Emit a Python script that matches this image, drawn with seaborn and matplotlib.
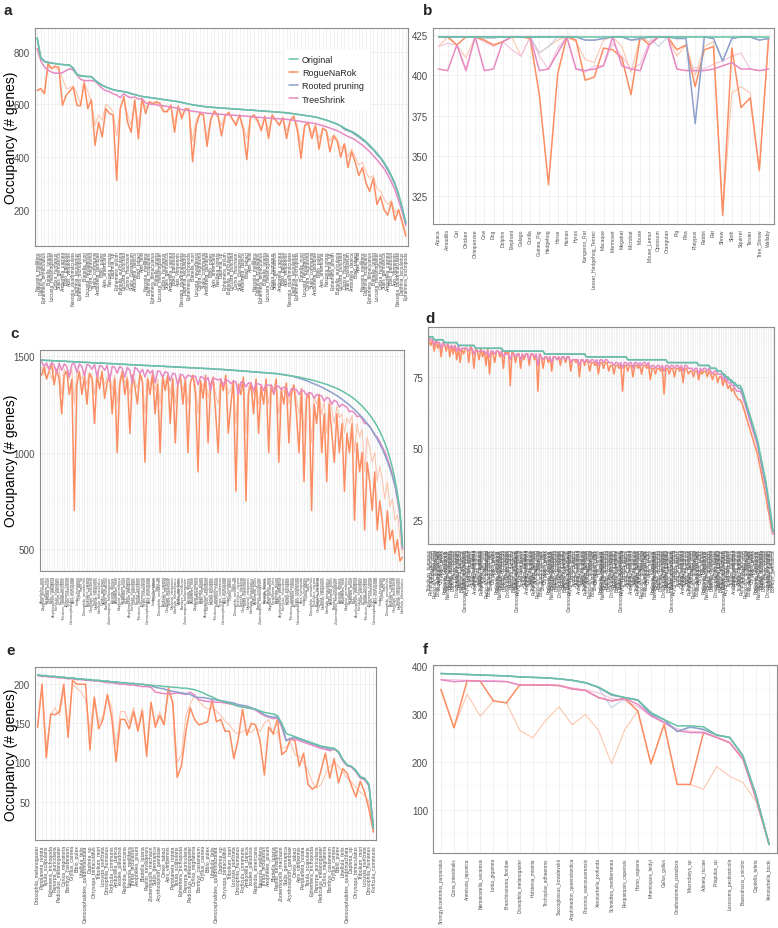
import matplotlib
matplotlib.use("Agg")
import matplotlib.pyplot as plt
from matplotlib.lines import Line2D
import numpy as np
import pandas as pd
import seaborn as sns

sns.set_theme(style="white")
plt.rcParams["font.family"] = ["Liberation Sans", "DejaVu Sans"]

W, H = 778, 929
fig = plt.figure(figsize=(W / 100, H / 100), dpi=100)

METHODS = ["Original", "RogueNaRok", "Rooted pruning", "TreeShrink"]
DARK = {"Original": "#66C2A5", "RogueNaRok": "#FC8D62",
        "Rooted pruning": "#8DA0CB", "TreeShrink": "#E78AC3"}
LIGHT = {"Original": "#A8DCCB", "RogueNaRok": "#FDC3AB",
         "Rooted pruning": "#C3CEE4", "TreeShrink": "#F2BFDD"}

# ---------------- tick-label name pools (labels unreadable in the reference) -------------
GENERA = ["Drosophila", "Anopheles", "Apis", "Bombyx", "Tribolium", "Nasonia", "Acyrthosiphon",
          "Pediculus", "Daphnia", "Ixodes", "Zootermopsis", "Ephemera", "Libellula", "Forficula",
          "Blattella", "Periplaneta", "Gryllus", "Locusta", "Thrips", "Cimex", "Corixa", "Chrysopa",
          "Raphidia", "Sialis", "Panorpa", "Ctenocephalides", "Amborella", "Papilio", "Tipula", "Bibio"]
EPITHETS = ["melanogaster", "gambiae", "mellifera", "mori", "castaneum", "vitripennis", "pisum",
            "humanus", "pulex", "scapularis", "nevadensis", "danica", "quadrimaculata", "auricularia",
            "germanica", "americana", "bimaculatus", "migratoria", "tabaci", "lectularius", "punctata",
            "carnea", "notata", "lutaria", "communis", "felis", "trichopoda", "machaon", "paludosa", "sp"]

taxa_a = [f"{GENERA[(3 * i + 5) % 30]}_{EPITHETS[(7 * i + 2) % 30]}" for i in range(103)]
taxa_c = [f"{GENERA[(7 * i + 1) % 30]}_{EPITHETS[(11 * i + 3) % 30]}" for i in range(144)]
taxa_d = [f"{GENERA[(11 * i + 4) % 30]}_{EPITHETS[(13 * i + 7) % 30]}" for i in range(200)]
taxa_e = ["Drosophila_melanogaster"] + [f"{GENERA[(13 * i + 2) % 30]}_{EPITHETS[(17 * i + 5) % 30]}" for i in range(1, 78)]

taxa_b = ["Alpaca", "Armadillo", "Cat", "Chicken", "Chimpanzee", "Cow", "Dog", "Dolphin", "Elephant",
          "Galago", "Gorilla", "Guinea_Pig", "Hedgehog", "Horse", "Human", "Hyrax", "Kangaroo_Rat",
          "Lesser_Hedgehog_Tenrec", "Macaque", "Marmoset", "Megabat", "Microbat", "Mouse", "Mouse_Lemur",
          "Opossum", "Orangutan", "Pig", "Pika", "Platypus", "Rabbit", "Rat", "Shrew", "Sloth",
          "Squirrel", "Tarsier", "Tree_Shrew", "Wallaby"]

taxa_f = ["Strongylocentrotus_purpuratus", "Ciona_intestinalis", "Anneissia_japonica",
          "Nematostella_vectensis", "Lottia_gigantea", "Branchiostoma_floridae", "Drosophila_melanogaster",
          "Hofstenia_miamia", "Trichoplax_adhaerens", "Saccoglossus_kowalevskii", "Amphimedon_queenslandica",
          "Phoronis_vancouverensis", "Xenoturbella_profunda", "Schmidtea_mediterranea",
          "Peripatopsis_capensis", "Homo_sapiens", "Mnemiopsis_leidyi", "Gallus_gallus",
          "Gnathostomula_paradoxa", "Macrodasys_sp", "Adineta_ricciae", "Priapulus_sp",
          "Loxosoma_pectinaricola", "Baseodiscus_unicolor", "Capitella_teleta", "Xenoturbella_bocki"]

# ---------------- panel a ----------------
a_original = [852, 775, 762, 758, 756, 754, 752, 751, 750, 749,
              735, 712, 708, 706, 705, 705, 690, 680, 672, 665,
              660, 655, 652, 650, 648, 645, 640, 637, 633, 630,
              628, 626, 624, 622, 620, 618, 616, 614, 612, 610,
              607, 604, 601, 598, 596, 594, 592, 590, 589, 588,
              587, 586, 585, 584, 583, 582, 581, 580, 579, 578,
              577, 576, 575, 574, 573, 572, 571, 570, 569, 568,
              566, 564, 562, 560, 558, 556, 554, 552, 548, 544,
              540, 535, 530, 525, 518, 510, 503, 497, 490, 480,
              470, 458, 445, 430, 415, 398, 380, 356, 330, 300,
              260, 210, 150]
a_rooted = [852, 778, 764, 760, 757, 755, 753, 751, 750, 748,
            738, 714, 709, 707, 706, 705, 692, 681, 673, 666,
            661, 656, 653, 650, 648, 645, 641, 637, 633, 630,
            628, 626, 624, 622, 620, 618, 616, 614, 612, 610,
            607, 604, 601, 598, 596, 594, 592, 590, 589, 588,
            587, 586, 585, 584, 583, 582, 581, 580, 579, 578,
            577, 576, 575, 574, 573, 572, 571, 570, 569, 568,
            566, 564, 562, 560, 558, 556, 554, 552, 548, 544,
            540, 535, 530, 525, 518, 505, 500, 495, 485, 476,
            465, 455, 440, 428, 410, 395, 375, 350, 325, 295,
            255, 205, 148]
a_treeshrink = [812, 765, 742, 730, 722, 718, 718, 720, 728, 735,
                730, 712, 695, 690, 690, 690, 688, 675, 660, 652,
                648, 640, 635, 625, 640, 630, 625, 628, 620, 622,
                605, 602, 600, 598, 596, 594, 592, 590, 587, 584,
                580, 578, 576, 574, 572, 570, 568, 566, 565, 564,
                563, 562, 561, 560, 559, 558, 557, 556, 555, 554,
                552, 551, 550, 549, 548, 547, 546, 545, 544, 543,
                541, 539, 537, 535, 533, 531, 529, 527, 523, 519,
                515, 510, 505, 500, 493, 485, 478, 472, 465, 455,
                445, 433, 420, 405, 390, 373, 355, 332, 305, 275,
                235, 190, 140]
a_rogue = [653, 660, 640, 754, 735, 745, 740, 596, 634, 650,
           665, 596, 594, 684, 584, 617, 444, 532, 476, 584,
           565, 559, 311, 584, 629, 532, 494, 617, 469, 623,
           565, 610, 603, 610, 603, 572, 572, 597, 494, 594,
           546, 584, 582, 382, 520, 565, 560, 440, 540, 575,
           560, 480, 555, 570, 545, 520, 560, 505, 390, 550,
           560, 540, 500, 555, 470, 560, 540, 520, 550, 470,
           540, 555, 500, 395, 520, 530, 470, 520, 430, 510,
           500, 420, 480, 460, 400, 450, 360, 420, 380, 330,
           360, 300, 270, 320, 220, 250, 200, 180, 230, 160,
           200, 150, 100]
a_rogue_thin = [650, 658, 645, 740, 742, 738, 730, 700, 660, 662,
                670, 640, 600, 680, 650, 610, 520, 560, 540, 600,
                590, 570, 480, 590, 620, 560, 520, 610, 520, 615,
                590, 600, 598, 605, 590, 575, 578, 590, 530, 588,
                560, 580, 575, 460, 540, 565, 555, 470, 545, 570,
                550, 520, 560, 565, 540, 530, 555, 520, 470, 548,
                552, 530, 510, 550, 500, 545, 540, 525, 548, 500,
                535, 548, 520, 440, 515, 525, 490, 515, 470, 505,
                500, 460, 485, 470, 430, 450, 400, 430, 400, 370,
                380, 340, 320, 330, 280, 270, 240, 220, 235, 190,
                200, 160, 110]

# ---------------- panel b ----------------
b_original = [424, 424, 424, 424, 424, 424, 424, 424, 424, 424, 424, 424, 424, 424, 424, 424, 424, 424, 424,
              424, 424, 424, 424, 424, 424, 424, 424, 424, 424, 424, 424, 424, 424, 424, 424, 424, 424]
b_rogue = [424, 424, 419, 424, 424, 422, 419, 421, 424, 424, 423, 388, 332, 401, 424, 422, 397, 399, 417,
           416, 411, 388, 424, 419, 424, 424, 416, 419, 393, 416, 418, 313, 417, 380, 386, 341, 423]
b_rogue_thin = [418, 424, 419, 411, 424, 421, 419, 421, 424, 412, 424, 414, 418, 422, 424, 421, 410, 408, 422,
                424, 418, 402, 424, 421, 424, 424, 412, 419, 400, 418, 421, 313, 389, 393, 389, 340, 423]
b_treeshrink = [404, 403, 419, 403, 424, 403, 404, 421, 424, 424, 424, 403, 404, 414, 424, 404, 403, 404, 406,
                424, 406, 404, 403, 419, 424, 424, 404, 403, 403, 403, 404, 406, 408, 404, 404, 403, 404]
b_treeshrink_thin = [418, 420, 419, 404, 424, 421, 418, 421, 416, 412, 424, 412, 404, 417, 424, 404, 402, 406,
                     406, 420, 412, 404, 407, 421, 424, 424, 404, 403, 405, 404, 407, 409, 412, 414, 404, 403, 404]
b_rooted = [424, 424, 424, 424, 424, 424, 424, 424, 424, 424, 424, 424, 424, 424, 424, 424, 422, 422, 423,
            424, 424, 422, 423, 424, 424, 424, 423, 423, 370, 424, 423, 409, 423, 424, 424, 422, 423]
b_rooted_thin = [424, 424, 424, 424, 424, 423, 423, 424, 424, 424, 424, 414, 418, 424, 424, 424, 422, 422, 423,
                 424, 424, 422, 422, 424, 418, 424, 424, 424, 424, 424, 423, 409, 423, 424, 424, 422, 423]

# ---------------- panel c ----------------
c_original = [1478, 1477, 1476, 1476, 1475, 1474, 1474, 1473, 1472, 1472,
              1471, 1470, 1470, 1469, 1468, 1468, 1467, 1466, 1466, 1465,
              1464, 1464, 1463, 1462, 1462, 1461, 1460, 1460, 1459, 1458,
              1458, 1457, 1456, 1456, 1455, 1454, 1454, 1453, 1452, 1452,
              1451, 1450, 1450, 1449, 1448, 1448, 1447, 1446, 1446, 1445,
              1444, 1444, 1443, 1442, 1442, 1441, 1440, 1440, 1439, 1438,
              1438, 1437, 1436, 1436, 1435, 1434, 1434, 1433, 1432, 1431,
              1430, 1430, 1429, 1428, 1427, 1426, 1425, 1424, 1423, 1422,
              1421, 1420, 1419, 1418, 1417, 1416, 1415, 1414, 1413, 1412,
              1411, 1410, 1409, 1408, 1406, 1404, 1402, 1400, 1398, 1396,
              1394, 1392, 1390, 1387, 1384, 1381, 1378, 1375, 1372, 1368,
              1364, 1360, 1356, 1352, 1347, 1342, 1337, 1331, 1325, 1318,
              1311, 1303, 1295, 1286, 1276, 1265, 1253, 1240, 1226, 1211,
              1195, 1177, 1157, 1135, 1110, 1082, 1050, 1014, 972, 922,
              862, 790, 700, 520]
c_rooted = [1478, 1477, 1476, 1476, 1475, 1474, 1474, 1473, 1472, 1472,
            1471, 1470, 1470, 1469, 1468, 1468, 1467, 1466, 1466, 1465,
            1464, 1464, 1463, 1462, 1462, 1461, 1460, 1460, 1459, 1458,
            1458, 1457, 1456, 1456, 1455, 1454, 1454, 1453, 1452, 1452,
            1451, 1450, 1450, 1449, 1448, 1448, 1447, 1446, 1446, 1445,
            1444, 1444, 1443, 1442, 1442, 1441, 1440, 1440, 1439, 1438,
            1438, 1437, 1436, 1436, 1435, 1434, 1434, 1433, 1432, 1431,
            1430, 1430, 1429, 1428, 1427, 1426, 1425, 1424, 1423, 1422,
            1421, 1420, 1419, 1418, 1417, 1416, 1415, 1414, 1413, 1412,
            1411, 1410, 1409, 1408, 1406, 1404, 1402, 1400, 1398, 1396,
            1392, 1388, 1385, 1380, 1376, 1371, 1366, 1360, 1355, 1350,
            1344, 1338, 1331, 1324, 1317, 1310, 1302, 1294, 1285, 1276,
            1266, 1256, 1245, 1234, 1222, 1209, 1196, 1182, 1167, 1150,
            1133, 1114, 1093, 1070, 1045, 1018, 988, 955, 918, 878,
            830, 770, 690, 510]
c_treeshrink = [1470, 1445, 1462, 1432, 1466, 1452, 1410, 1462, 1425, 1458,
                1445, 1390, 1455, 1462, 1415, 1458, 1445, 1395, 1455, 1450,
                1430, 1455, 1390, 1450, 1445, 1425, 1450, 1370, 1445, 1440,
                1410, 1445, 1435, 1390, 1440, 1425, 1360, 1440, 1430, 1410,
                1430, 1390, 1428, 1410, 1425, 1360, 1422, 1418, 1390, 1418,
                1412, 1370, 1410, 1405, 1345, 1405, 1400, 1380, 1400, 1395,
                1392, 1395, 1350, 1392, 1388, 1370, 1388, 1320, 1385, 1380,
                1375, 1380, 1345, 1375, 1372, 1355, 1370, 1365, 1300, 1365,
                1362, 1340, 1360, 1358, 1320, 1356, 1354, 1350, 1320, 1350,
                1348, 1345, 1305, 1345, 1342, 1325, 1338, 1335, 1290, 1330,
                1328, 1325, 1300, 1320, 1318, 1295, 1310, 1306, 1280, 1300,
                1296, 1292, 1265, 1285, 1278, 1250, 1270, 1262, 1235, 1250,
                1242, 1233, 1210, 1215, 1205, 1185, 1190, 1175, 1150, 1150,
                1135, 1115, 1090, 1080, 1055, 1030, 1005, 970, 930, 885,
                830, 760, 670, 500]
c_rogue = [1400, 1440, 1380, 1420, 1460, 1350, 1430, 1380, 1200, 1400,
           1420, 1300, 1380, 700, 1350, 1420, 1300, 1390, 1250, 1410,
           1380, 1150, 1400, 1330, 1420, 1280, 1360, 1400, 1200, 1380,
           1000, 1350, 1420, 1300, 1380, 1100, 1400, 1340, 1250, 1410,
           1360, 950, 1380, 1300, 1410, 1200, 1350, 1000, 1390, 1320,
           1400, 1150, 1380, 1050, 1350, 1400, 1250, 1380, 1000, 1360,
           1400, 1300, 900, 1370, 1280, 1400, 1050, 1350, 1390, 1200,
           1000, 1380, 1320, 1400, 1100, 1250, 1370, 800, 1350, 1300,
           1390, 750, 1300, 1360, 1200, 1380, 1100, 1340, 1250, 1380,
           1000, 1350, 1300, 1380, 950, 1320, 1250, 1360, 1050, 1300,
           1350, 1200, 1000, 1330, 850, 1280, 1300, 700, 1250, 1150,
           1300, 1000, 1200, 850, 1250, 1100, 950, 1200, 1000, 1150,
           800, 1100, 1000, 1150, 650, 1050, 900, 1000, 600, 950,
           850, 700, 900, 600, 750, 650, 500, 700, 550, 600,
           480, 550, 440, 460]
c_rogue_thin = [1440, 1400, 1450, 1430, 1380, 1445, 1420, 1440, 1300, 1430,
                1410, 1380, 1430, 1250, 1420, 1400, 1380, 1420, 1350, 1410,
                1400, 1300, 1420, 1380, 1400, 1350, 1390, 1410, 1320, 1400,
                1250, 1380, 1410, 1360, 1395, 1300, 1400, 1370, 1330, 1400,
                1380, 1200, 1390, 1350, 1400, 1320, 1380, 1250, 1390, 1360,
                1390, 1300, 1385, 1250, 1370, 1390, 1320, 1380, 1250, 1370,
                1390, 1350, 1200, 1370, 1340, 1385, 1280, 1360, 1380, 1300,
                1250, 1370, 1350, 1385, 1300, 1330, 1365, 1150, 1360, 1340,
                1375, 1100, 1340, 1360, 1300, 1370, 1250, 1350, 1320, 1365,
                1250, 1350, 1330, 1360, 1200, 1340, 1310, 1350, 1250, 1330,
                1340, 1280, 1200, 1320, 1100, 1300, 1310, 1050, 1290, 1250,
                1300, 1200, 1260, 1100, 1270, 1220, 1150, 1240, 1180, 1200,
                1100, 1180, 1150, 1190, 1000, 1150, 1080, 1120, 900, 1080,
                1020, 950, 1000, 850, 930, 860, 760, 850, 720, 760,
                650, 680, 560, 480]

# ---------------- panel d ----------------
d_original = [89, 89, 89, 88, 88, 88, 88, 88, 88, 87, 87, 87, 87, 87, 87, 87, 87, 86, 86, 86,
              86, 86, 86, 86, 86, 86, 86, 85, 85, 85, 85, 85, 85, 85, 85, 85, 85, 85, 85, 85,
              85, 85, 85, 84, 84, 84, 84, 84, 84, 84, 84, 84, 84, 84, 84, 84, 84, 84, 84, 84,
              84, 84, 84, 84, 84, 84, 84, 83, 83, 83, 83, 83, 83, 83, 83, 83, 83, 83, 83, 83,
              83, 83, 83, 83, 83, 83, 83, 83, 83, 83, 83, 82, 82, 82, 82, 82, 82, 82, 82, 82,
              82, 82, 82, 82, 82, 82, 82, 82, 82, 82, 82, 82, 82, 82, 82, 81, 81, 81, 81, 81,
              81, 81, 81, 81, 81, 81, 81, 81, 81, 81, 81, 81, 81, 81, 81, 81, 81, 81, 80, 80,
              80, 80, 80, 80, 80, 80, 80, 80, 80, 80, 80, 80, 80, 80, 80, 80, 79, 79, 79, 79,
              79, 79, 79, 78, 78, 78, 78, 77, 77, 77, 76, 76, 75, 75, 74, 74, 73, 73, 72, 72,
              72, 71, 69, 67, 65, 63, 61, 59, 57, 55, 53, 50, 47, 44, 41, 38, 34, 30, 26, 21]
d_rooted = [89, 89, 89, 88, 88, 88, 88, 88, 88, 87, 87, 87, 87, 87, 87, 87, 87, 86, 86, 86,
            86, 86, 86, 86, 86, 86, 86, 85, 85, 85, 85, 85, 85, 85, 85, 85, 85, 85, 85, 85,
            85, 85, 85, 84, 84, 84, 84, 84, 84, 84, 84, 84, 84, 84, 84, 84, 84, 84, 84, 84,
            84, 84, 84, 84, 84, 84, 84, 83, 83, 83, 83, 83, 83, 83, 83, 83, 83, 83, 83, 83,
            83, 83, 83, 83, 83, 83, 83, 83, 83, 83, 83, 82, 82, 82, 82, 82, 82, 82, 82, 82,
            82, 82, 82, 82, 82, 82, 82, 82, 82, 82, 82, 82, 82, 82, 82, 81, 81, 81, 81, 81,
            81, 81, 81, 81, 81, 81, 81, 81, 81, 81, 81, 81, 81, 81, 81, 81, 81, 81, 80, 80,
            80, 80, 80, 80, 80, 80, 80, 80, 80, 80, 80, 80, 80, 80, 80, 80, 79, 79, 79, 79,
            79, 79, 79, 78, 78, 78, 78, 77, 77, 77, 76, 75, 75, 74, 74, 73, 73, 72, 72, 71,
            71, 70, 68, 66, 64, 62, 60, 58, 56, 54, 52, 49, 46, 43, 40, 37, 33, 29, 25, 21]
d_treeshrink = [89, 88, 88, 86, 88, 87, 87, 85, 87, 86, 86, 86, 85, 86, 85, 86, 84, 86, 84, 85,
                85, 85, 85, 84, 85, 85, 83, 84, 84, 84, 84, 84, 84, 83, 84, 82, 84, 84, 83, 84,
                84, 83, 84, 82, 83, 83, 83, 81, 83, 83, 82, 83, 83, 81, 83, 82, 83, 83, 81, 83,
                83, 82, 83, 79, 83, 82, 81, 82, 82, 81, 82, 80, 82, 82, 81, 82, 81, 82, 82, 81,
                82, 82, 80, 81, 81, 81, 81, 79, 81, 81, 80, 81, 81, 80, 81, 81, 80, 81, 79, 81,
                81, 80, 81, 81, 80, 80, 80, 79, 80, 80, 79, 80, 78, 80, 80, 79, 80, 80, 78, 80,
                80, 79, 80, 79, 80, 80, 79, 80, 78, 79, 79, 78, 79, 79, 78, 79, 77, 79, 79, 78,
                79, 79, 78, 79, 79, 78, 79, 77, 79, 79, 78, 78, 78, 77, 78, 78, 76, 78, 77, 78,
                78, 77, 78, 77, 76, 77, 77, 76, 76, 76, 74, 75, 74, 73, 73, 72, 72, 71, 70, 70,
                70, 69, 67, 65, 63, 61, 59, 57, 55, 53, 51, 48, 45, 42, 39, 36, 32, 28, 24, 20]
d_rogue = [88, 86, 88, 84, 88, 85, 87, 82, 87, 86, 84, 87, 82, 86, 83, 86, 81, 85, 80, 85,
           83, 85, 85, 80, 86, 84, 78, 85, 84, 81, 85, 82, 84, 79, 85, 76, 84, 83, 80, 84,
           84, 82, 84, 78, 84, 83, 84, 72, 84, 83, 80, 83, 83, 78, 83, 81, 83, 83, 79, 83,
           83, 81, 83, 70, 83, 82, 78, 82, 82, 80, 82, 77, 82, 82, 81, 82, 79, 82, 82, 80,
           82, 82, 77, 81, 81, 80, 81, 75, 81, 81, 79, 81, 80, 77, 80, 80, 79, 80, 76, 80,
           80, 78, 80, 80, 77, 79, 79, 76, 79, 79, 78, 79, 70, 79, 79, 77, 79, 79, 75, 79,
           79, 78, 79, 76, 79, 79, 78, 79, 74, 78, 78, 76, 78, 78, 77, 78, 69, 78, 78, 76,
           78, 78, 75, 78, 78, 77, 78, 73, 78, 78, 76, 77, 77, 75, 77, 77, 74, 77, 76, 77,
           77, 75, 77, 76, 74, 76, 76, 73, 75, 75, 72, 74, 73, 71, 72, 70, 71, 69, 68, 67,
           67, 66, 64, 62, 60, 58, 56, 54, 52, 50, 48, 45, 42, 39, 36, 33, 29, 26, 22, 20]

# ---------------- panel e ----------------
e_original = [212, 211, 211, 210, 210, 209, 209, 208, 208, 207,
              207, 206, 206, 205, 205, 204, 204, 203, 203, 202,
              202, 201, 201, 200, 200, 199, 199, 198, 198, 197,
              197, 196, 196, 195, 195, 194, 193, 191, 189, 186,
              184, 181, 179, 177, 176, 174, 172, 171, 170, 169,
              168, 166, 164, 163, 162, 160, 150, 137, 135, 133,
              131, 129, 127, 125, 123, 121, 120, 119, 118, 114,
              104, 97, 95, 90, 82, 80, 72, 16]
e_rooted = [212, 211, 211, 210, 210, 209, 209, 208, 208, 207,
            207, 206, 206, 205, 205, 204, 204, 203, 203, 202,
            202, 201, 201, 200, 200, 199, 198, 196, 195, 194,
            192, 191, 190, 189, 188, 187, 184, 183, 183, 182,
            181, 180, 179, 178, 177, 176, 174, 173, 172, 170,
            168, 165, 161, 159, 158, 158, 148, 128, 131, 132,
            130, 128, 126, 124, 122, 120, 119, 117, 118, 113,
            103, 96, 95, 89, 81, 79, 71, 16]
e_treeshrink = [211, 210, 210, 209, 209, 208, 208, 207, 207, 206,
                206, 205, 205, 204, 204, 203, 202, 202, 201, 200,
                200, 199, 199, 198, 197, 197, 196, 190, 189, 188,
                188, 188, 189, 188, 187, 190, 186, 180, 179, 178,
                178, 177, 177, 176, 175, 174, 172, 171, 170, 169,
                167, 163, 160, 158, 156, 157, 145, 128, 130, 130,
                128, 126, 124, 122, 120, 118, 117, 115, 117, 113,
                102, 96, 94, 88, 80, 78, 70, 16]
e_rogue = [145, 200, 106, 162, 161, 165, 200, 132, 205, 200,
           200, 200, 116, 183, 143, 155, 187, 157, 101, 155,
           155, 143, 165, 140, 166, 108, 177, 145, 160, 148,
           196, 175, 81, 96, 140, 170, 155, 148, 150, 152,
           180, 152, 155, 140, 140, 105, 130, 168, 135, 150,
           148, 128, 84, 145, 137, 155, 110, 115, 130, 128,
           95, 112, 72, 66, 70, 90, 112, 80, 105, 74,
           92, 86, 70, 56, 76, 62, 40, 11]
e_rogue_thin = [150, 195, 120, 160, 170, 160, 190, 150, 200, 195,
                190, 180, 140, 185, 150, 160, 185, 170, 120, 165,
                165, 150, 170, 145, 170, 115, 175, 150, 165, 150,
                190, 178, 100, 110, 160, 175, 185, 178, 172, 168,
                170, 166, 160, 153, 148, 140, 136, 140, 142, 138,
                145, 140, 150, 155, 135, 140, 118, 120, 125, 110,
                108, 100, 90, 75, 67, 72, 85, 95, 100, 95,
                88, 80, 75, 68, 62, 58, 50, 11]

# ---------------- panel f ----------------
f_original = [385, 384, 383, 382, 381, 380, 378, 377, 376, 374, 371, 366, 357, 342, 335, 330, 304, 289, 276,
              276, 274, 257, 252, 214, 132, 29]
f_rooted = [385, 384, 383, 382, 381, 380, 378, 377, 376, 374, 371, 366, 356, 340, 335, 330, 300, 289, 264,
            274, 268, 257, 252, 214, 132, 29]
f_rooted_thin = [385, 384, 383, 382, 381, 380, 378, 377, 376, 374, 370, 365, 356, 314, 333, 329, 297, 285, 266,
                 272, 270, 256, 251, 212, 130, 29]
f_treeshrink = [372, 368, 370, 369, 369, 368, 361, 361, 361, 360, 353, 350, 335, 328, 333, 321, 297, 283, 266,
                262, 262, 252, 241, 207, 125, 29]
f_treeshrink_thin = [373, 372, 371, 370, 370, 369, 362, 362, 362, 361, 355, 351, 345, 333, 329, 316, 296, 282,
                     270, 265, 263, 252, 241, 207, 127, 29]
f_rogue = [352, 272, 370, 369, 328, 324, 361, 361, 361, 360, 353, 350, 335, 328, 333, 307, 197, 279, 154,
           154, 262, 252, 241, 207, 125, 29]
f_rogue_thin = [352, 272, 342, 296, 328, 324, 267, 251, 288, 316, 278, 300, 267, 197, 268, 307, 197, 279, 154,
                154, 144, 191, 171, 158, 119, 29]


def panel(rect, letter, letter_xy, taxa, series, yticks, label_fs, legend=False):
    l, t, r, b = rect
    ax = fig.add_axes([l / W, 1 - b / H, (r - l) / W, (b - t) / H])
    n = len(taxa)
    recs = []
    for (m, v), vals in series.items():
        assert len(vals) == n, (letter, m, v, len(vals), n)
        recs += [{"pos": i, "occ": val, "method": m, "variant": v} for i, val in enumerate(vals)]
    df = pd.DataFrame(recs)
    order = ["RogueNaRok", "TreeShrink", "Rooted pruning", "Original"]
    thin = df[df["variant"] == "thin"]
    thick = df[df["variant"] == "thick"]
    if len(thin):
        present = set(thin["method"])
        sns.lineplot(data=thin, x="pos", y="occ", hue="method",
                     hue_order=[m for m in order if m in present],
                     palette={m: LIGHT[m] for m in present}, linewidth=0.75,
                     estimator=None, legend=False, ax=ax)
    present = set(thick["method"])
    sns.lineplot(data=thick, x="pos", y="occ", hue="method",
                 hue_order=[m for m in order if m in present],
                 palette={m: DARK[m] for m in present}, linewidth=1.1,
                 estimator=None, legend=False, ax=ax)
    step = yticks[1] - yticks[0]
    minors = [yticks[0] - step / 2] + [v + step / 2 for v in yticks]
    ax.set_yticks(yticks)
    ax.set_yticks(minors, minor=True)
    ax.set_yticklabels([str(v) for v in yticks], fontsize=7, color="#4D4D4D")
    ax.set_xticks(range(n))
    ax.set_xticklabels(taxa, rotation=90, fontsize=label_fs, color="#4D4D4D")
    lo, hi = df["occ"].min(), df["occ"].max()
    pad = 0.05 * (hi - lo)
    ax.set_ylim(lo - pad, hi + pad)
    ax.set_xlim(-0.6, n - 1 + 0.6)
    ax.tick_params(axis="x", which="major", length=2, width=0.4, pad=1, color="#333333")
    ax.tick_params(axis="y", which="major", length=2, width=0.5, pad=1.5, color="#333333")
    ax.tick_params(which="minor", length=0)
    ax.grid(True, which="major", axis="both", color="#EBEBEB", linewidth=0.5)
    ax.grid(True, which="minor", axis="y", color="#F3F3F3", linewidth=0.35)
    ax.set_axisbelow(True)
    for s in ax.spines.values():
        s.set_color("#8C8C8C")
        s.set_linewidth(0.8)
    ax.set_xlabel("")
    ax.set_ylabel("")
    fig.text(letter_xy[0] / W, 1 - letter_xy[1] / H, letter,
             fontsize=11, fontweight="bold", ha="left", va="center")
    if legend:
        handles = [Line2D([0], [0], color=DARK[m], lw=1.1) for m in METHODS]
        ax.legend(handles, METHODS, loc="upper left", bbox_to_anchor=(0.655, 0.92), fontsize=6.5,
                  frameon=True, facecolor="white", edgecolor="white", framealpha=1,
                  handlelength=1.0, handletextpad=0.4, labelspacing=0.45, borderpad=0.6)
    return ax


panel((35, 29, 408, 247), "a", (4, 11), taxa_a,
      {("Original", "thick"): a_original, ("Rooted pruning", "thick"): a_rooted,
       ("TreeShrink", "thick"): a_treeshrink, ("RogueNaRok", "thick"): a_rogue,
       ("RogueNaRok", "thin"): a_rogue_thin},
      [200, 400, 600, 800], 3.5, legend=True)
panel((433, 29, 774, 225), "b", (423, 11), taxa_b,
      {("Original", "thick"): b_original, ("Rooted pruning", "thick"): b_rooted,
       ("Rooted pruning", "thin"): b_rooted_thin, ("TreeShrink", "thick"): b_treeshrink,
       ("TreeShrink", "thin"): b_treeshrink_thin, ("RogueNaRok", "thick"): b_rogue,
       ("RogueNaRok", "thin"): b_rogue_thin},
      [325, 350, 375, 400, 425], 3.6)
panel((40, 351, 404, 572), "c", (10, 334), taxa_c,
      {("Original", "thick"): c_original, ("Rooted pruning", "thick"): c_rooted,
       ("TreeShrink", "thick"): c_treeshrink, ("RogueNaRok", "thick"): c_rogue,
       ("RogueNaRok", "thin"): c_rogue_thin},
      [500, 1000, 1500], 2.7)
panel((428, 328, 774, 545), "d", (425, 319), taxa_d,
      {("Original", "thick"): d_original, ("Rooted pruning", "thick"): d_rooted,
       ("TreeShrink", "thick"): d_treeshrink, ("RogueNaRok", "thick"): d_rogue},
      [25, 50, 75], 3.4)
panel((35, 668, 376, 841), "e", (6, 651), taxa_e,
      {("Original", "thick"): e_original, ("Rooted pruning", "thick"): e_rooted,
       ("TreeShrink", "thick"): e_treeshrink, ("RogueNaRok", "thick"): e_rogue,
       ("RogueNaRok", "thin"): e_rogue_thin},
      [50, 100, 150, 200], 3.7)
panel((433, 666, 777, 854), "f", (423, 650), taxa_f,
      {("Original", "thick"): f_original, ("Rooted pruning", "thick"): f_rooted,
       ("Rooted pruning", "thin"): f_rooted_thin, ("TreeShrink", "thick"): f_treeshrink,
       ("TreeShrink", "thin"): f_treeshrink_thin, ("RogueNaRok", "thick"): f_rogue,
       ("RogueNaRok", "thin"): f_rogue_thin},
      [100, 200, 300, 400], 3.4)

for yc in (138, 461, 755):
    fig.text(11 / W, 1 - yc / H, "Occupancy (# genes)", rotation=90, ha="center", va="center",
             fontsize=10, color="black")

fig.savefig("out.png", dpi=100)
